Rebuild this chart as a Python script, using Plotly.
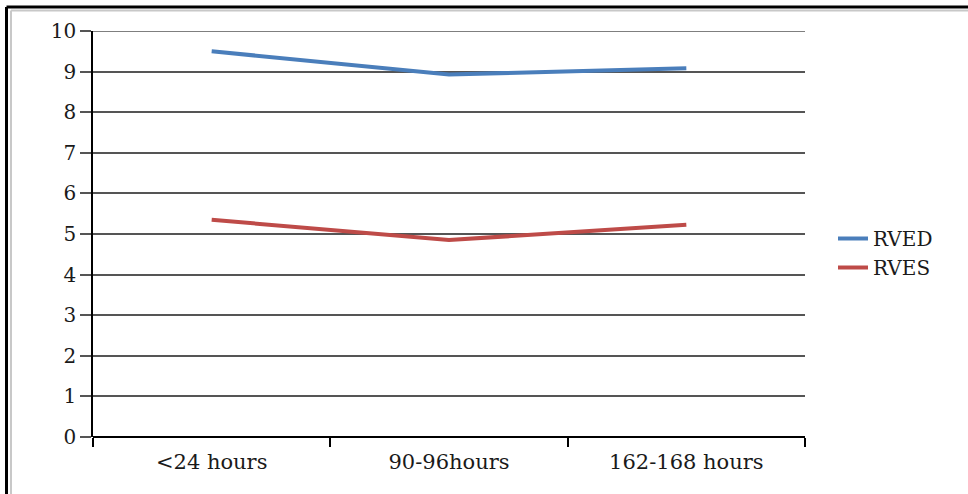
import plotly.graph_objects as go

categories = ["<24 hours", "90-96hours", "162-168 hours"]
rved = [9.5, 8.93, 9.08]
rves = [5.35, 4.85, 5.23]
y_ticks = [0, 1, 2, 3, 4, 5, 6, 7, 8, 9, 10]

W, H = 968, 494
L, R, T, B = 93, 805, 31, 437

def px_x(p):
    return (p - L) / (R - L)

def px_y(p):
    return (B - p) / (B - T)

font_family = "DejaVu Serif"

fig = go.Figure()
fig.add_trace(go.Scatter(x=categories, y=rved, mode="lines", name="RVED",
                         line=dict(color="#4a7ebb", width=4)))
fig.add_trace(go.Scatter(x=categories, y=rves, mode="lines", name="RVES",
                         line=dict(color="#be4b48", width=4)))

shapes = [
    dict(type="line", xref="paper", yref="paper", x0=px_x(6.5), x1=px_x(968), y0=px_y(7), y1=px_y(7),
         line=dict(color="black", width=3)),
    dict(type="line", xref="paper", yref="paper", x0=px_x(6.5), x1=px_x(6.5), y0=px_y(7), y1=px_y(494),
         line=dict(color="black", width=3)),
    dict(type="line", xref="paper", yref="paper", x0=px_x(11), x1=px_x(968), y0=px_y(10.5), y1=px_y(10.5),
         line=dict(color="#c8c8c8", width=2)),
    dict(type="line", xref="paper", yref="paper", x0=px_x(11), x1=px_x(11), y0=px_y(10.5), y1=px_y(494),
         line=dict(color="#c8c8c8", width=2)),
    # top gridline at the max of the range (plotly omits gridline at range edge)
    dict(type="line", xref="paper", yref="y", x0=0, x1=1, y0=y_ticks[-1], y1=y_ticks[-1],
         line=dict(color="#555", width=1.5), layer="below"),
]

fig.update_layout(
    width=W, height=H, autosize=False,
    margin=dict(l=L, r=W - R, t=T, b=H - B, pad=0),
    paper_bgcolor="white", plot_bgcolor="white",
    font=dict(family=font_family, size=20, color="#1a1a1a"),
    showlegend=True,
    legend=dict(x=px_x(833), y=px_y(253), xanchor="left", yanchor="middle",
                font=dict(family=font_family, size=20, color="#1a1a1a"),
                bgcolor="rgba(0,0,0,0)", itemwidth=30, tracegroupgap=0),
    shapes=shapes,
    xaxis=dict(type="category", range=[-0.5, 2.5], tickson="boundaries",
               ticks="outside", ticklen=9, tickcolor="black", tickwidth=1.5,
               ticklabelstandoff=10,
               showgrid=False, showline=False, zeroline=False,
               tickfont=dict(family=font_family, size=21, color="#1a1a1a")),
    yaxis=dict(range=[0, 10], tickvals=y_ticks, ticks="outside", ticklen=11,
               tickcolor="#555", tickwidth=1.5,
               showgrid=True, gridcolor="#555", gridwidth=1.5,
               showline=True, linecolor="black", linewidth=1.5,
               zeroline=True, zerolinecolor="black", zerolinewidth=1.5,
               tickfont=dict(family=font_family, size=20, color="#1a1a1a")),
)

fig.write_html("out.html", config={"displayModeBar": False},
               post_script="document.body.style.margin='0px';document.body.style.overflow='hidden';")
